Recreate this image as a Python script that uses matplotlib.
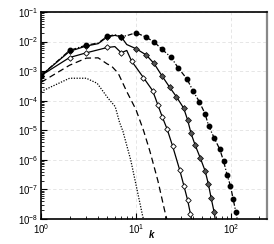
import numpy as np
import matplotlib
matplotlib.use("Agg")
import matplotlib.pyplot as plt

plt.rcParams['font.family'] = ['Liberation Sans', 'DejaVu Sans']

# spectra (k, log10 E)
k_dot = [1, 2, 3, 3.9, 5.1, 6.05, 6.7, 7.3, 8.8, 10.1, 11.8, 12.3]
e_dot = [-3.69, -3.24, -3.24, -3.41, -3.92, -4.2, -4.72, -5.04, -6.0, -6.9, -7.92, -8.1]

k_dash = [1, 2, 3, 4, 5, 5.5, 6.5, 8, 10, 12, 14, 17, 20, 21.5]
e_dash = [-3.38, -2.8, -2.56, -2.55, -2.76, -2.82, -3.07, -3.69, -4.3, -5.0, -5.7, -6.7, -7.7, -8.1]

k_open = [1, 2, 3, 5, 6, 7, 8, 9, 12, 15, 17, 19, 21.3, 24.3, 29, 32, 35, 37.5, 39]
e_open = [-3.15, -2.54, -2.38, -2.2, -2.17, -2.38, -2.3, -2.66, -3.22, -3.66, -4.14, -4.56,
          -4.96, -5.53, -6.36, -6.88, -7.36, -7.83, -8.1]
mk_open = [0, 1, 2, 3, 5, 7, 8, 9, 10, 11, 12, 13, 14, 15, 16, 17]

k_gray = [1, 2, 3, 4, 5, 6, 7, 8, 10, 12.8, 15.5, 18.8, 22.6, 26.6, 31.8, 35, 38, 42,
          47.5, 53.6, 58, 62, 66.7, 69]
e_gray = [-3.15, -2.33, -2.15, -2.07, -1.84, -1.79, -1.84, -2.1, -2.24, -2.45, -2.74,
          -3.16, -3.54, -3.86, -4.25, -4.65, -5.1, -5.5, -5.93, -6.38, -6.83, -7.3, -7.78, -8.1]
mk_gray = [0, 1, 2, 4, 6, 8, 9, 10, 11, 12, 13, 14, 15, 16, 17, 18, 19, 20, 21, 22]

k_blk = [1, 2, 3, 4, 5, 6, 7, 8, 10, 12.8, 15.6, 18.8, 23.4, 28, 34.4, 39.8, 46.4, 53.6,
         58.2, 66.7, 76.3, 83.7, 91, 98.9, 105.7, 112.9, 118]
e_blk = [-3.15, -2.3, -2.12, -2.05, -1.82, -1.77, -1.83, -1.8, -1.7, -1.85, -2.02, -2.26,
         -2.53, -2.9, -3.26, -3.66, -4.03, -4.45, -4.85, -5.26, -5.64, -6.04, -6.5, -6.88,
         -7.33, -7.78, -8.1]
mk_blk = [0, 1, 2, 4, 6, 8, 9, 10, 11, 12, 13, 14, 15, 16, 17, 18, 19, 20, 21, 22, 23, 24, 25]

fig = plt.figure(figsize=(2.74, 2.44), dpi=100)
ax = fig.add_axes([0.1496, 0.1025, 0.8249, 0.8483])

ax.plot(k_dot, 10.0 ** np.array(e_dot), color='k', lw=0.9, ls=(0, (1, 1.2)))
ax.plot(k_dash, 10.0 ** np.array(e_dash), color='k', lw=0.9, ls=(0, (5, 3)))
ax.plot(k_open, 10.0 ** np.array(e_open), color='k', lw=0.9, marker='D', ms=2.8,
        mfc='white', mec='k', mew=0.6, markevery=mk_open)
ax.plot(k_gray, 10.0 ** np.array(e_gray), color='k', lw=0.9, marker='D', ms=3.0,
        mfc='#555555', mec='k', mew=0.5, markevery=mk_gray)
ax.plot(k_blk, 10.0 ** np.array(e_blk), color='k', lw=0.9, ls=(0, (4, 1.5, 1, 1.5)),
        marker='o', ms=3.2, mfc='k', mec='k', markevery=mk_blk)

ax.set_xscale('log')
ax.set_yscale('log')
ax.set_xlim(1, 240)
ax.set_ylim(1e-8, 1e-1)
ax.grid(True, which='major', color='#e2e2e2', ls=(0, (4, 3)), lw=0.6)
ax.set_axisbelow(True)

ax.tick_params(which='both', direction='in', top=False, right=False, labelsize=7, pad=2)
ax.tick_params(which='major', length=4, width=0.8)
ax.tick_params(which='minor', length=2, width=0.6)
for s in ['left', 'bottom', 'top']:
    ax.spines[s].set_linewidth(1.2)
ax.spines['right'].set_color('#888888')
ax.spines['right'].set_linewidth(1.6)

ax.set_xlabel('k', fontsize=7, style='italic', fontweight='bold')
ax.xaxis.set_label_coords(0.49, -0.055)

fig.savefig('out.png', dpi=100)
